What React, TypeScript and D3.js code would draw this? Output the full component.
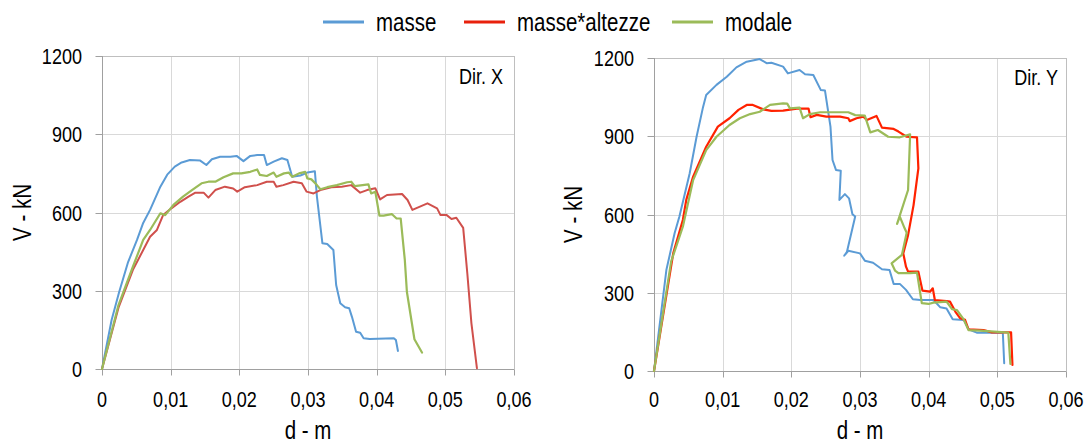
import React from "react";
import * as d3 from "d3";

// ---------- DATA ----------
const seriesNames = ["masse", "masse*altezze", "modale"];
const xTicks = [0, 0.01, 0.02, 0.03, 0.04, 0.05, 0.06];
const xTickLabels = ["0", "0,01", "0,02", "0,03", "0,04", "0,05", "0,06"];
const yTicks = [0, 300, 600, 900, 1200];
const yTickLabels = ["0", "300", "600", "900", "1200"];

// Dir. X  — [d (m), V (kN)]
const xMasse: [number, number][] = [
  [0, 0], [0.0014, 188], [0.0025, 295], [0.0038, 410], [0.0051, 495], [0.006, 560], [0.007, 610],
  [0.0085, 699], [0.0095, 745], [0.0106, 776], [0.0116, 792], [0.0128, 801], [0.0143, 799],
  [0.0152, 782], [0.016, 804], [0.0172, 814], [0.0187, 814], [0.0196, 817], [0.0206, 797],
  [0.0216, 817], [0.0226, 820], [0.0236, 820], [0.024, 782], [0.025, 795], [0.0262, 808],
  [0.027, 801], [0.0277, 737], [0.0289, 742], [0.0299, 753], [0.031, 758], [0.0313, 661],
  [0.0321, 482], [0.0328, 479], [0.0337, 456], [0.0341, 322], [0.0347, 252], [0.0354, 237],
  [0.036, 233], [0.0364, 200], [0.037, 143], [0.0376, 139], [0.0381, 118], [0.039, 115],
  [0.0425, 118], [0.0428, 111], [0.0431, 69],
];
const xAltezze: [number, number][] = [
  [0, 0], [0.0024, 235], [0.0045, 380], [0.007, 507], [0.008, 533], [0.0089, 590], [0.0101, 616],
  [0.0114, 641], [0.0126, 661], [0.0136, 676], [0.0148, 676], [0.0155, 657], [0.0165, 686],
  [0.0179, 699], [0.0191, 692], [0.0197, 680], [0.0208, 697], [0.0226, 705], [0.024, 718],
  [0.025, 718], [0.0254, 699], [0.0264, 705], [0.0279, 718], [0.0291, 712], [0.0298, 680],
  [0.0308, 673], [0.0318, 686], [0.0334, 697], [0.0349, 699], [0.0363, 705], [0.0376, 676],
  [0.0386, 686], [0.0398, 693], [0.0405, 650], [0.0415, 667], [0.0437, 671], [0.0445, 648],
  [0.0452, 610], [0.0474, 635], [0.0488, 616], [0.0493, 590], [0.0502, 590], [0.0509, 575],
  [0.0516, 580], [0.0526, 541], [0.0532, 367], [0.0538, 175], [0.0546, 3],
];
const xModale: [number, number][] = [
  [0, 0], [0.0024, 245], [0.0045, 392], [0.006, 495], [0.007, 533], [0.0085, 597], [0.0092, 590],
  [0.0104, 629], [0.0118, 661], [0.0131, 686], [0.0145, 712], [0.0155, 718], [0.0165, 718],
  [0.0177, 735], [0.0191, 750], [0.0203, 750], [0.0216, 756], [0.0226, 765], [0.023, 744],
  [0.024, 740], [0.025, 753], [0.0254, 737], [0.0265, 750], [0.0272, 753], [0.0277, 737],
  [0.0287, 750], [0.0296, 756], [0.0299, 731], [0.0305, 727], [0.0313, 705], [0.0318, 689],
  [0.0328, 697], [0.0342, 705], [0.0357, 716], [0.0363, 718], [0.0368, 701], [0.0388, 708],
  [0.0392, 673], [0.0398, 680], [0.0404, 588], [0.041, 588], [0.0422, 594], [0.0429, 577],
  [0.0435, 577], [0.0441, 418], [0.0444, 296], [0.0455, 114], [0.0466, 63],
];

// Dir. Y — [d (m), V (kN)]
const yMasse: [number, number][] = [
  [0, 0], [0.0018, 387], [0.003, 528], [0.0037, 592], [0.0052, 758], [0.0062, 898], [0.0071, 1007],
  [0.0076, 1058], [0.0091, 1097], [0.0106, 1128], [0.012, 1164], [0.0135, 1186], [0.0154, 1196],
  [0.0164, 1180], [0.0171, 1182], [0.0188, 1167], [0.0195, 1141], [0.0212, 1154], [0.022, 1138],
  [0.0232, 1135], [0.0243, 1077], [0.0249, 1075], [0.0257, 937], [0.026, 809], [0.0265, 771],
  [0.0272, 768], [0.027, 656], [0.0278, 678], [0.0284, 662], [0.0289, 601], [0.0293, 592],
  [0.0281, 457], [0.0277, 442], [0.0283, 461], [0.03, 451], [0.0307, 423], [0.0319, 415],
  [0.0332, 390], [0.0343, 387], [0.0349, 334], [0.0358, 334], [0.0367, 311], [0.0377, 275],
  [0.0388, 272], [0.0407, 272], [0.0417, 244], [0.0426, 240], [0.0435, 198], [0.0451, 196],
  [0.0458, 160], [0.047, 147], [0.0508, 147], [0.051, 30],
];
const yAltezze: [number, number][] = [
  [0, 0], [0.0028, 451], [0.0042, 579], [0.0047, 656], [0.0057, 745], [0.0076, 860], [0.0093, 937],
  [0.011, 969], [0.0123, 1001], [0.0135, 1020], [0.0144, 1020], [0.0159, 1003], [0.0171, 997],
  [0.0188, 998], [0.0208, 1006], [0.0225, 1006], [0.0228, 973], [0.0237, 982], [0.0251, 975],
  [0.0271, 975], [0.0283, 969], [0.0285, 958], [0.0295, 969], [0.0305, 975], [0.031, 962],
  [0.0324, 978], [0.0332, 933], [0.0349, 928], [0.0356, 918], [0.0368, 898], [0.0383, 896],
  [0.0385, 777], [0.0378, 636], [0.037, 521], [0.0363, 451], [0.0367, 400], [0.037, 381],
  [0.0385, 381], [0.0391, 308], [0.0402, 304], [0.0406, 317], [0.0409, 272], [0.0426, 268],
  [0.0431, 266], [0.0439, 227], [0.0446, 202], [0.0453, 196], [0.0458, 160], [0.048, 157],
  [0.0492, 148], [0.052, 148], [0.0522, 23],
];
const yModale: [number, number][] = [
  [0, 0], [0.0025, 420], [0.0042, 553], [0.0057, 732], [0.0076, 847], [0.0091, 898], [0.011, 943],
  [0.0125, 969], [0.014, 985], [0.0154, 994], [0.0169, 1020], [0.0188, 1026], [0.0194, 1025],
  [0.0198, 1007], [0.0212, 1010], [0.0217, 969], [0.0227, 985], [0.0242, 992], [0.0283, 992],
  [0.0293, 981], [0.0307, 979], [0.0315, 915], [0.0326, 924], [0.0341, 898], [0.0358, 896],
  [0.0373, 907], [0.037, 694], [0.0354, 564], [0.0358, 592], [0.0365, 547], [0.0368, 530],
  [0.0361, 445], [0.0346, 413], [0.0351, 385], [0.0356, 375], [0.0373, 375], [0.0383, 377],
  [0.039, 260], [0.04, 257], [0.0407, 262], [0.0426, 266], [0.0434, 237], [0.0441, 234],
  [0.0451, 198], [0.0458, 157], [0.0475, 155], [0.0516, 147], [0.0519, 27],
];

// ---------- STYLE ----------
const FONT = "'Liberation Sans', Arial, sans-serif";
const NARROW = 0.82;
const BLUE = "#5B9BD5";
const RED_X = "#D0504C";
const RED_Y = "#FF2200";
const RED_LEG = "#E8200C";
const GREEN = "#9BBB59";

type TProps = { x: number; y: number; size: number; anchor?: string; rotate?: boolean; children: React.ReactNode };
function T({ x, y, size, anchor = "start", rotate = false, children }: TProps) {
  const tr = rotate
    ? `translate(${x},${y}) rotate(-90) scale(${NARROW},1)`
    : `translate(${x},${y}) scale(${NARROW},1)`;
  return (
    <text transform={tr} textAnchor={anchor as any} fontSize={size} fontFamily={FONT} fill="#000">
      {children}
    </text>
  );
}

type PanelProps = {
  left: number; right: number; top: number; bottom: number;
  series: { data: [number, number][]; color: string; width: number }[];
  dirLabel: string; dirX: number; dirY: number; yTitleX: number;
};

function Panel({ left, right, top, bottom, series, dirLabel, dirX, dirY, yTitleX }: PanelProps) {
  const x = d3.scaleLinear().domain([0, 0.06]).range([left, right]);
  const y = d3.scaleLinear().domain([0, 1200]).range([bottom, top]);
  const line = d3.line<[number, number]>().x((d) => x(d[0])).y((d) => y(d[1]));
  const c = (v: number) => Math.round(v) + 0.5;
  return (
    <g>
      {xTicks.map((t) => (
        <line key={"gx" + t} x1={c(x(t))} x2={c(x(t))} y1={top} y2={bottom} stroke="#d9d9d9" strokeWidth={1} />
      ))}
      {yTicks.map((t) => (
        <line key={"gy" + t} x1={left} x2={right} y1={c(y(t))} y2={c(y(t))} stroke="#d9d9d9" strokeWidth={1} />
      ))}
      <line x1={left} x2={c(right)} y1={c(top)} y2={c(top)} stroke="#bfbfbf" />
      <line x1={c(right)} x2={c(right)} y1={top} y2={bottom} stroke="#bfbfbf" />
      <line x1={c(left)} x2={c(left)} y1={top} y2={c(bottom)} stroke="#a0a0a0" />
      <line x1={c(left)} x2={c(right)} y1={c(bottom)} y2={c(bottom)} stroke="#a0a0a0" />
      {yTicks.map((t) => (
        <line key={"ty" + t} x1={c(left) - 7} x2={c(left)} y1={c(y(t))} y2={c(y(t))} stroke="#a0a0a0" />
      ))}
      {xTicks.map((t) => (
        <line key={"tx" + t} x1={c(x(t))} x2={c(x(t))} y1={c(bottom)} y2={c(bottom) + 6} stroke="#a0a0a0" />
      ))}
      {yTicks.map((t, i) => (
        <T key={"ly" + t} x={left - 20} y={y(t) + 8} size={22} anchor="end">{yTickLabels[i]}</T>
      ))}
      {xTicks.map((t, i) => (
        <T key={"lx" + t} x={x(t)} y={407} size={22} anchor="middle">{xTickLabels[i]}</T>
      ))}
      {series.map((s, i) => (
        <path key={"s" + i} d={line(s.data) || ""} fill="none" stroke={s.color} strokeWidth={s.width}
          strokeLinejoin="round" strokeLinecap="round" />
      ))}
      <T x={dirX} y={dirY} size={22} anchor="end">{dirLabel}</T>
      <T x={(left + right) / 2} y={439} size={25} anchor="middle">d - m</T>
      <T x={yTitleX} y={(top + bottom) / 2} size={25} anchor="middle" rotate>V - kN</T>
    </g>
  );
}

export default function App() {
  const legendItems = [
    { name: seriesNames[0], color: BLUE, x1: 323 },
    { name: seriesNames[1], color: RED_LEG, x1: 464 },
    { name: seriesNames[2], color: GREEN, x1: 672 },
  ];
  return (
    <svg width={1086} height={444} style={{ position: "absolute", left: 0, top: 0, background: "#fff" }}>
      <rect width={1086} height={444} fill="#fff" />
      {legendItems.map((l) => (
        <g key={l.name}>
          <line x1={l.x1} x2={l.x1 + 41} y1={22} y2={22} stroke={l.color} strokeWidth={3} />
          <T x={l.x1 + 53} y={31} size={25}>{l.name}</T>
        </g>
      ))}
      <Panel left={102} right={514} top={56} bottom={369}
        series={[
          { data: xMasse, color: BLUE, width: 2 },
          { data: xAltezze, color: RED_X, width: 2 },
          { data: xModale, color: GREEN, width: 2.2 },
        ]}
        dirLabel="Dir. X" dirX={503} dirY={84} yTitleX={31} />
      <Panel left={654} right={1066} top={58} bottom={371}
        series={[
          { data: yMasse, color: BLUE, width: 2 },
          { data: yAltezze, color: RED_Y, width: 2.2 },
          { data: yModale, color: GREEN, width: 2.2 },
        ]}
        dirLabel="Dir. Y" dirX={1058} dirY={85} yTitleX={582} />
    </svg>
  );
}
